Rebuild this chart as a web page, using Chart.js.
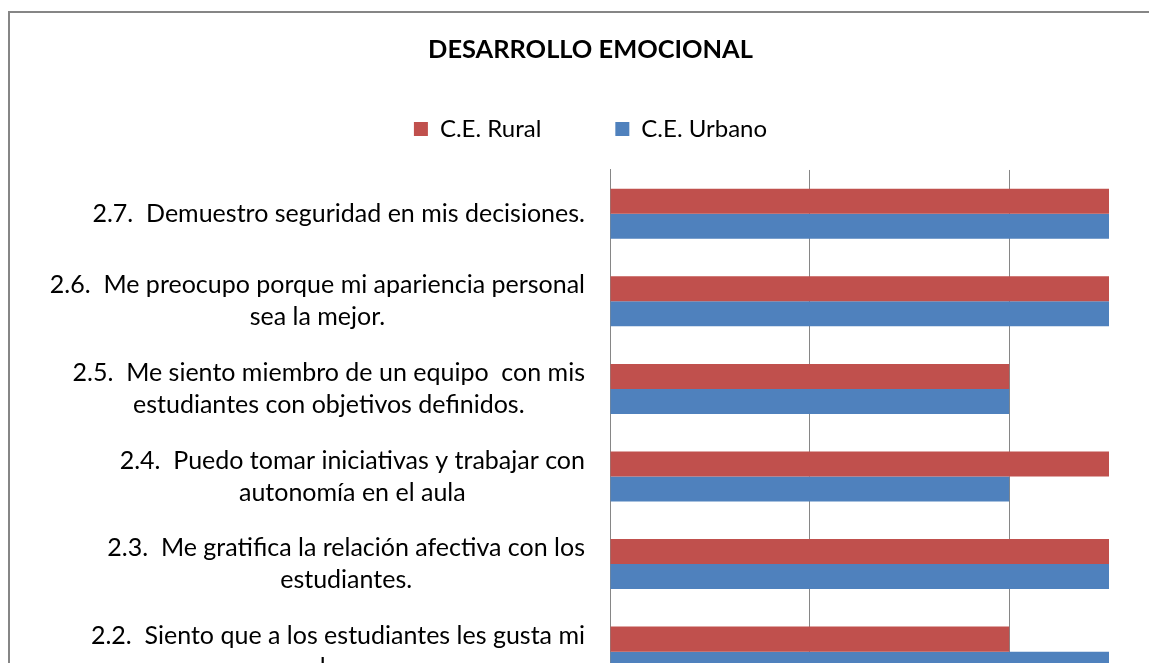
<!DOCTYPE html>
<html>
<head>
<meta charset="utf-8">
<script src="https://cdn.jsdelivr.net/npm/chart.js@4/dist/chart.umd.min.js"></script>
<style>
html, body { margin: 0; padding: 0; overflow: hidden; background: #fff; width: 1149px; height: 663px; }
#wrap { position: absolute; left: 8px; top: 11px; width: 1161px; height: 820px; border: 2px solid #868686; background: #fff; }
</style>
</head>
<body>
<div id="wrap"><canvas id="c"></canvas></div>
<script>
// ---- data ----
const categories = [
  ["2.7.  Demuestro seguridad en mis decisiones."],
  ["2.6.  Me preocupo porque mi apariencia personal", "sea la mejor."],
  ["2.5.  Me siento miembro de un equipo  con mis", "estudiantes con objetivos definidos."],
  ["2.4.  Puedo tomar iniciativas y trabajar con", "autonomía en el aula"],
  ["2.3.  Me gratifica la relación afectiva con los", "estudiantes."],
  ["2.2.  Siento que a los estudiantes les gusta mi", "clase."],
  ["2.1.  Me siento satisfecho con mi labor", "docente."]
];
const seriesNames = ["C.E. Rural", "C.E. Urbano"];
const ruralValues  = [5, 5, 4, 5, 5, 4, 5];
const urbanoValues = [5, 5, 4, 4, 5, 5, 5];
const xTicks = [0, 2, 4];

// ---- style ----
const FONT = "Lato";
const LABEL_SIZE = 25;
const LABEL_LINE = 32;
const GRID = "#868686";

const yLabelPlugin = {
  id: "yLabels",
  afterDraw(chart) {
    const s = chart.scales.y;
    const ctx = chart.ctx;
    ctx.save();
    ctx.font = LABEL_SIZE + "px " + FONT;
    ctx.fillStyle = "#000";
    ctx.textAlign = "center";
    ctx.textBaseline = "middle";
    categories.forEach((lines, i) => {
      const y = s.getPixelForTick(i);
      const w = Math.max(...lines.map(l => ctx.measureText(l).width));
      const cx = s.right - 25 - w / 2;
      lines.forEach((l, j) => {
        ctx.fillText(l, cx, y + (j - (lines.length - 1) / 2) * LABEL_LINE);
      });
    });
    ctx.restore();
  }
};

function build() {
  new Chart(document.getElementById("c"), {
    type: "bar",
    data: {
      labels: categories,
      datasets: [
        { label: seriesNames[0], data: ruralValues, backgroundColor: "#C0504D", borderWidth: 0, xAxisID: "x", yAxisID: "y" },
        { label: seriesNames[1], data: urbanoValues, backgroundColor: "#4F81BD", borderWidth: 0, xAxisID: "x", yAxisID: "y" }
      ]
    },
    options: {
      indexAxis: "y",
      responsive: true,
      maintainAspectRatio: false,
      animation: false,
      layout: { padding: { left: 0, right: 0, top: 0, bottom: 10 } },
      datasets: { bar: { categoryPercentage: 50 / 87.5, barPercentage: 1 } },
      plugins: {
        title: {
          display: true,
          text: "DESARROLLO EMOCIONAL",
          color: "#000",
          font: { family: FONT, size: 25.4, weight: "bold", lineHeight: 1.2 },
          padding: { top: 21.8, bottom: -22.3 }
        },
        legend: {
          display: true,
          position: "top",
          labels: {
            color: "#000",
            font: { family: FONT, size: 24 },
            boxWidth: 14,
            boxHeight: 14,
            padding: 74
          }
        },
        tooltip: { enabled: false }
      },
      scales: {
        x: {
          type: "linear",
          position: "bottom",
          min: 0,
          max: 5,
          afterBuildTicks(s) { s.ticks = xTicks.map(v => ({ value: v })); },
          grid: { color: GRID, lineWidth: 1, drawTicks: false },
          border: { display: true, color: GRID },
          ticks: { color: "#000", font: { family: FONT, size: 24 }, padding: 6 },
          afterFit(s) { s.height = 40; }
        },
        y: {
          type: "category",
          grid: { display: false, drawTicks: false },
          border: { display: true, color: GRID, width: 1 },
          ticks: { display: false },
          afterFit(s) { s.width = 600; }
        },
        xTop: {
          type: "linear",
          axis: "x",
          position: "top",
          display: true,
          grid: { display: false, drawTicks: false },
          border: { display: false },
          ticks: { display: false },
          afterFit(s) { s.height = 19; }
        },
        yRight: {
          type: "linear",
          axis: "y",
          position: "right",
          display: true,
          grid: { display: false, drawTicks: false },
          border: { display: false },
          ticks: { display: false },
          afterFit(s) { s.width = 62; }
        }
      }
    },
    plugins: [yLabelPlugin]
  });
}

Promise.all([
  document.fonts.load("25px Lato"),
  document.fonts.load("bold 25.4px Lato")
]).then(build, build);
</script>
</body>
</html>
